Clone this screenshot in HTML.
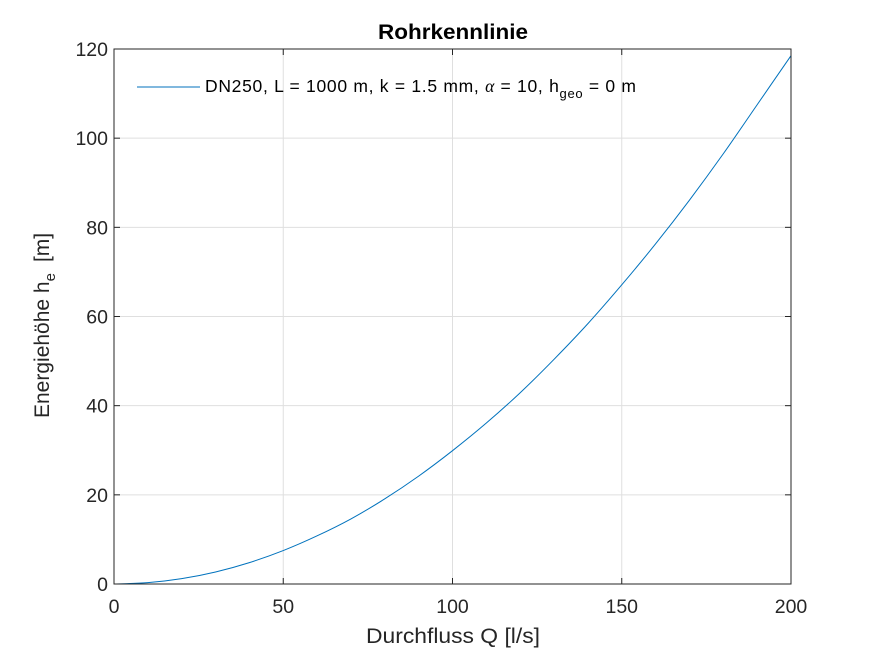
<!DOCTYPE html>
<html><head><meta charset="utf-8"><style>
body{margin:0;background:#fff;}
svg{display:block;font-family:"Liberation Sans",Arial,sans-serif;}
</style></head><body>
<svg id="chart" width="875" height="656" viewBox="0 0 875 656">
<rect width="875" height="656" fill="#fff"/>
<g id="grid"></g>
<g id="ticks"></g>
<g id="plot"></g>
<rect x="114" y="49" width="677" height="535" fill="none" stroke="#262626" stroke-width="1"/>
<text x="378" y="39" font-size="21" font-weight="bold" fill="#000" textLength="150" lengthAdjust="spacingAndGlyphs">Rohrkennlinie</text>
<text x="366" y="643" font-size="21" fill="#262626" textLength="174" lengthAdjust="spacingAndGlyphs">Durchfluss Q [l/s]</text>
<text transform="translate(49,418) rotate(-90)" font-size="21" fill="#262626">Energiehöhe h<tspan dy="6" font-size="15">e</tspan><tspan dy="-6" dx="11">[m]</tspan></text>
<g>
<line x1="137" y1="87" x2="200" y2="87" stroke="#0072BD" stroke-width="1"/>
<text x="205" y="92" font-size="17.5" fill="#000" textLength="431" lengthAdjust="spacing">DN250, L = 1000 m, k = 1.5 mm, <tspan font-family="Liberation Serif" font-style="italic">α</tspan> = 10, h<tspan dy="6" font-size="13">geo</tspan><tspan dy="-6"> = 0 m</tspan></text>
</g>
</svg>
<script>
const qValues=[0,10,20,30,40,50,60,70,80,90,100,110,120,130,140,150,160,170,180,190,200];
const hValues=[0,0.3,1.2,2.7,4.8,7.5,10.8,14.6,19.1,24.2,29.9,36.1,42.9,50.4,58.4,67.1,76.3,86.1,96.5,107.5,118.5];
const xTicks=[0,50,100,150,200];
const yTicks=[0,20,40,60,80,100,120];
const NS="http://www.w3.org/2000/svg";
const L=114,R=791,T=49,B=584;
const xs=v=>L+(v-0)/200*(R-L);
const ys=v=>B-(v-0)/120*(B-T);
const grid=document.getElementById('grid'),ticks=document.getElementById('ticks'),plot=document.getElementById('plot');
function mk(tag,attrs,parent){const e=document.createElementNS(NS,tag);for(const k in attrs)e.setAttribute(k,attrs[k]);parent.appendChild(e);return e;}
xTicks.forEach(t=>{
  const x=xs(t);
  const g=mk('line',{x1:x,x2:x,y1:T,y2:B,stroke:'#dfdfdf','stroke-width':1},grid);
  
  
  const tk=mk('line',{x1:x,x2:x,y1:B,y2:B-6,stroke:'#262626'},ticks);
  
  
  const tk2=mk('line',{x1:x,x2:x,y1:T,y2:T+6,stroke:'#262626'},ticks);
  
  
  const tx=mk('text',{x:x,y:B+29,'text-anchor':'middle','font-size':'19.5',fill:'#262626'},ticks);
  tx.textContent=t;
  
  
});
yTicks.forEach(t=>{
  const y=ys(t);
  const g=mk('line',{x1:L,x2:R,y1:y,y2:y,stroke:'#dfdfdf','stroke-width':1},grid);
  
  
  const tk=mk('line',{x1:L,x2:L+6,y1:y,y2:y,stroke:'#262626'},ticks);
  
  
  const tk2=mk('line',{x1:R,x2:R-6,y1:y,y2:y,stroke:'#262626'},ticks);
  
  
  const tx=mk('text',{x:L-6,y:y+7,'text-anchor':'end','font-size':'19.5',fill:'#262626'},ticks);
  tx.textContent=t;
  
  
});
const P=qValues.map((q,i)=>[xs(q),ys(hValues[i])]);
let d='M'+P[0][0].toFixed(2)+','+P[0][1].toFixed(2);
for(let i=0;i<P.length-1;i++){
  const p0=P[Math.max(0,i-1)],p1=P[i],p2=P[i+1],p3=P[Math.min(P.length-1,i+2)];
  const c1=[p1[0]+(p2[0]-p0[0])/6,p1[1]+(p2[1]-p0[1])/6];
  const c2=[p2[0]-(p3[0]-p1[0])/6,p2[1]-(p3[1]-p1[1])/6];
  d+=' C'+c1[0].toFixed(2)+','+c1[1].toFixed(2)+' '+c2[0].toFixed(2)+','+c2[1].toFixed(2)+' '+p2[0].toFixed(2)+','+p2[1].toFixed(2);
}
const line=mk('path',{d:d,fill:'none',stroke:'#0072BD','stroke-width':1},plot);


</script>
</body></html>
